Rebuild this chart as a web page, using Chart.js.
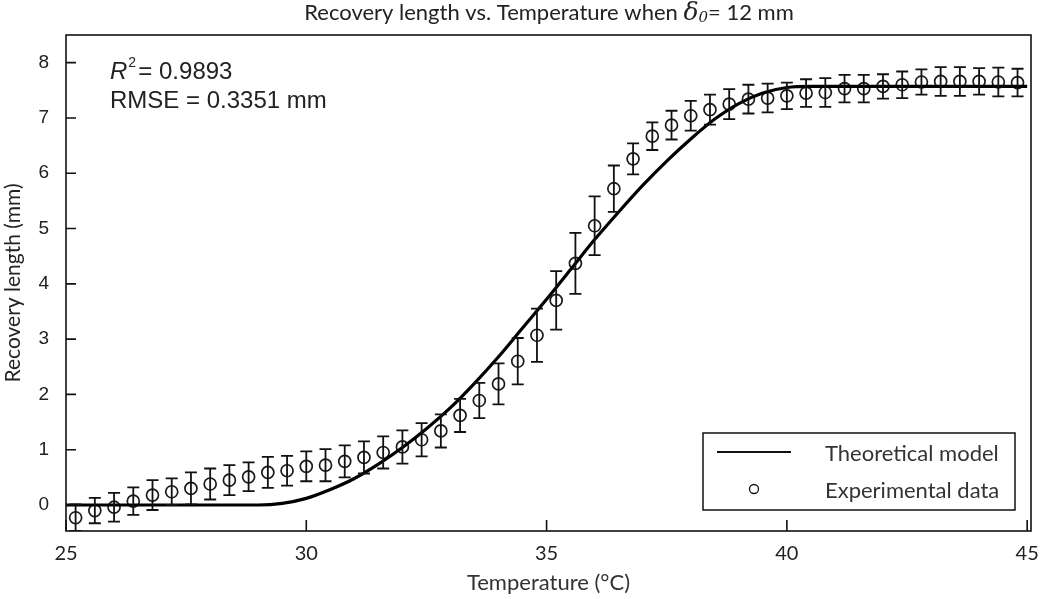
<!DOCTYPE html>
<html lang="en">
<head>
<meta charset="UTF-8">
<title>Recovery length vs. Temperature</title>
<script src="https://cdn.jsdelivr.net/npm/chart.js"></script>
<style>
  body { margin: 0; background: #fff; }
  #wrap { width: 1050px; height: 599px; position: relative; }
</style>
</head>
<body>
<div id="wrap"><canvas id="chart"></canvas></div>
<script>
const temps = [25.2, 25.6, 26.0, 26.4, 26.8, 27.2, 27.6, 28.0, 28.4, 28.8,
               29.2, 29.6, 30.0, 30.4, 30.8, 31.2, 31.6, 32.0, 32.4, 32.8,
               33.2, 33.6, 34.0, 34.4, 34.8, 35.2, 35.6, 36.0, 36.4, 36.8,
               37.2, 37.6, 38.0, 38.4, 38.8, 39.2, 39.6, 40.0, 40.4, 40.8,
               41.2, 41.6, 42.0, 42.4, 42.8, 43.2, 43.6, 44.0, 44.4, 44.8];
const recovery = [-0.23, -0.10, -0.04, 0.07, 0.18, 0.24, 0.30, 0.38, 0.45, 0.51,
                  0.59, 0.62, 0.70, 0.72, 0.79, 0.86, 0.95, 1.05, 1.18, 1.34,
                  1.62, 1.89, 2.19, 2.60, 3.07, 3.70, 4.37, 5.05, 5.72, 6.26,
                  6.67, 6.87, 7.04, 7.15, 7.25, 7.34, 7.36, 7.40, 7.45, 7.46,
                  7.53, 7.53, 7.57, 7.60, 7.65, 7.66, 7.66, 7.66, 7.65, 7.64];
const errors = [0.24, 0.23, 0.26, 0.25, 0.27, 0.24, 0.29, 0.28, 0.27, 0.26,
                0.28, 0.27, 0.27, 0.29, 0.29, 0.29, 0.29, 0.30, 0.30, 0.30,
                0.30, 0.32, 0.37, 0.42, 0.48, 0.53, 0.55, 0.53, 0.42, 0.28,
                0.25, 0.26, 0.27, 0.27, 0.27, 0.26, 0.26, 0.24, 0.25, 0.26,
                0.25, 0.25, 0.22, 0.24, 0.23, 0.26, 0.26, 0.24, 0.26, 0.25];

// theoretical model curve
const modelT = [25, 26, 27, 28, 29, 29.5, 30, 30.5, 31, 31.5, 32, 32.5, 33, 33.5,
                34, 34.5, 35, 35.5, 36, 36.5, 37, 37.5, 38, 38.5, 39, 39.5, 40,
                40.5, 41, 42, 43, 44, 45];
const modelY = [0, 0, 0, 0, 0, 0.03, 0.12, 0.28, 0.48, 0.74, 1.04, 1.38, 1.76, 2.2,
                2.68, 3.2, 3.72, 4.26, 4.8, 5.3, 5.78, 6.22, 6.62, 6.98, 7.26, 7.45, 7.55,
                7.57, 7.57, 7.57, 7.57, 7.57, 7.57];

const xTicks = [25, 30, 35, 40, 45];
const yTicks = [0, 1, 2, 3, 4, 5, 6, 7, 8];

const calibri = 'Lato, "Open Sans", sans-serif';
const arial = '"Liberation Sans", Arial, sans-serif';

const extras = {
  id: 'extras',
  afterDatasetsDraw(chart) {
    const { ctx, chartArea: a, scales: { x, y } } = chart;
    ctx.save();
    // error bars
    ctx.beginPath();
    ctx.rect(a.left, a.top, a.right - a.left, a.bottom - a.top);
    ctx.clip();
    ctx.strokeStyle = '#111';
    ctx.lineWidth = 1.8;
    temps.forEach((t, i) => {
      const px = x.getPixelForValue(t);
      const top = y.getPixelForValue(recovery[i] + errors[i]);
      const bot = y.getPixelForValue(recovery[i] - errors[i]);
      ctx.beginPath();
      ctx.moveTo(px, top); ctx.lineTo(px, bot);
      ctx.moveTo(px - 6, top); ctx.lineTo(px + 6, top);
      ctx.moveTo(px - 6, bot); ctx.lineTo(px + 6, bot);
      ctx.stroke();
    });
    ctx.restore();
  },
  afterDraw(chart) {
    const { ctx, chartArea: a, scales: { x, y } } = chart;
    ctx.save();
    // frame
    ctx.strokeStyle = '#111';
    ctx.lineWidth = 1.6;
    ctx.strokeRect(a.left, a.top, a.right - a.left, a.bottom - a.top);
    // inward ticks
    ctx.beginPath();
    yTicks.forEach(v => {
      const py = y.getPixelForValue(v);
      ctx.moveTo(a.left, py); ctx.lineTo(a.left + 10, py);
    });
    xTicks.forEach(v => {
      const px = x.getPixelForValue(v);
      ctx.moveTo(px, a.bottom); ctx.lineTo(px, a.bottom - 11);
    });
    ctx.stroke();

    // title
    ctx.fillStyle = '#222';
    ctx.textBaseline = 'middle';
    const p1 = 'Recovery length vs. Temperature when ';
    const p4 = '= 12 mm';
    const tf = '22px ' + calibri;
    ctx.font = tf;
    const w1 = ctx.measureText(p1).width;
    const w4 = ctx.measureText(p4).width;
    ctx.font = 'italic 25px "DejaVu Serif", serif';
    const w2 = ctx.measureText('δ').width;
    ctx.font = 'italic 15px "DejaVu Serif", serif';
    const w3 = ctx.measureText('0').width;
    let tx = 549 - (w1 + w2 + w3 + w4) / 2;
    const ty = 13;
    ctx.textAlign = 'left';
    ctx.font = tf;
    ctx.fillText(p1, tx, ty); tx += w1;
    ctx.font = 'italic 25px "DejaVu Serif", serif';
    ctx.fillText('δ', tx, ty); tx += w2;
    ctx.font = 'italic 15px "DejaVu Serif", serif';
    ctx.fillText('0', tx, ty + 5); tx += w3;
    ctx.font = tf;
    ctx.fillText(p4, tx, ty);

    // fit statistics
    ctx.font = 'italic 24px ' + arial;
    ctx.fillText('R', 110, 72);
    const rw = ctx.measureText('R').width;
    ctx.font = '14px ' + arial;
    ctx.fillText('2', 110 + rw + 1, 63);
    ctx.font = '24px ' + arial;
    ctx.fillText('= 0.9893', 110 + rw + 11, 72);
    ctx.fillText('RMSE = 0.3351 mm', 110, 101);

    // legend
    const lx = 703, ly = 433, lw = 312, lh = 77;
    ctx.fillStyle = '#fff';
    ctx.fillRect(lx, ly, lw, lh);
    ctx.strokeStyle = '#111';
    ctx.lineWidth = 1.5;
    ctx.strokeRect(lx, ly, lw, lh);
    ctx.lineWidth = 2;
    ctx.beginPath();
    ctx.moveTo(717, 452); ctx.lineTo(791, 452);
    ctx.stroke();
    ctx.lineWidth = 1.3;
    ctx.beginPath();
    ctx.arc(754, 489, 4.5, 0, Math.PI * 2);
    ctx.stroke();
    ctx.fillStyle = '#333';
    ctx.font = '22px ' + calibri;
    ctx.fillText('Theoretical model', 825, 454);
    ctx.fillText('Experimental data', 825, 491);
    ctx.restore();
  }
};

new Chart(document.getElementById('chart'), {
  type: 'scatter',
  data: {
    datasets: [
      {
        label: 'Theoretical model',
        data: modelT.map((t, i) => ({ x: t, y: modelY[i] })),
        showLine: true,
        borderColor: '#000',
        borderWidth: 3.2,
        pointRadius: 0,
        cubicInterpolationMode: 'monotone'
      },
      {
        label: 'Experimental data',
        data: temps.map((t, i) => ({ x: t, y: recovery[i] })),
        pointStyle: 'circle',
        pointRadius: 6,
        backgroundColor: 'rgba(0,0,0,0)',
        borderColor: '#1a1a1a',
        borderWidth: 1.7
      }
    ]
  },
  options: {
    responsive: true,
    maintainAspectRatio: false,
    animation: false,
    layout: { padding: { top: 35, right: 19, left: 0, bottom: 0 } },
    plugins: { legend: { display: false }, tooltip: { enabled: false } },
    scales: {
      x: {
        type: 'linear',
        min: 25, max: 45.08,
        afterBuildTicks: s => { s.ticks = xTicks.map(v => ({ value: v })); },
        afterFit: s => { s.height = 68; },
        grid: { display: false },
        border: { display: false },
        ticks: { color: '#222', font: { family: calibri, size: 20 }, padding: 3 },
        title: { display: true, text: 'Temperature (°C)', color: '#333',
                 font: { family: calibri, size: 22 }, padding: { top: 0, bottom: 3 } }
      },
      y: {
        min: -0.47, max: 8.5,
        afterBuildTicks: s => { s.ticks = yTicks.map(v => ({ value: v })); },
        afterFit: s => { s.width = 66; },
        grid: { display: false },
        border: { display: false },
        ticks: { color: '#222', font: { family: arial, size: 19 }, padding: 9 },
        title: { display: true, text: 'Recovery length (mm)', color: '#222',
                 font: { family: calibri, size: 21 }, padding: { top: 1, bottom: 4 } }
      }
    }
  },
  plugins: [extras]
});
</script>
</body>
</html>
